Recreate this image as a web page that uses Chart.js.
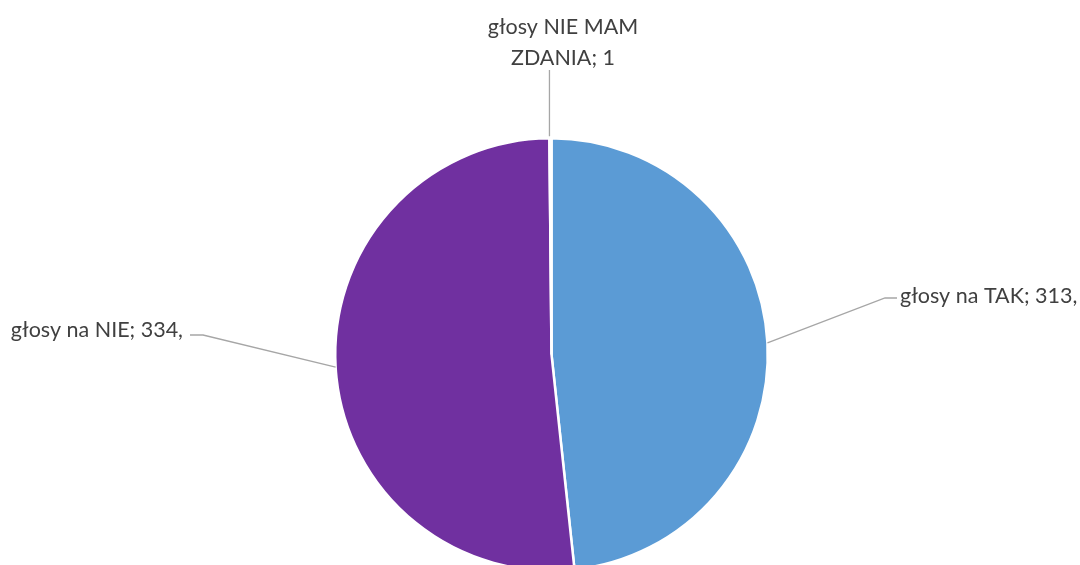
<!DOCTYPE html>
<html>
<head>
<meta charset="utf-8">
<script src="https://cdn.jsdelivr.net/npm/chart.js@4.4.0/dist/chart.umd.min.js"></script>
<style>
  html, body { margin: 0; padding: 0; background: #fff; overflow: hidden; }
  #wrap { position: relative; width: 1080px; height: 600px; }
</style>
</head>
<body>
<div id="wrap"><canvas id="chart"></canvas></div>
<script>
const labels = ['głosy na TAK', 'głosy na NIE', 'głosy NIE MAM ZDANIA'];
const votes = [313, 334, 1];
const colors = ['#5B9BD5', '#7030A0', '#A5A5A5'];
// label text lines
const labelLines = [['głosy na TAK; 313,'], ['głosy na NIE; 334,'], ['głosy NIE MAM', 'ZDANIA; 1']];

const leaderPlugin = {
  id: 'leaders',
  afterDatasetsDraw(chart) {
    const ctx = chart.ctx;
    const arcs = chart.getDatasetMeta(0).data;
    ctx.save();
    ctx.font = '21.5px Lato, sans-serif';
    ctx.fillStyle = '#404040';
    ctx.strokeStyle = '#A6A6A6';
    ctx.lineWidth = 1.3;
    arcs.forEach((arc, i) => {
      const mid = (arc.startAngle + arc.endAngle) / 2;
      const ax = arc.x + Math.cos(mid) * arc.outerRadius;
      const ay = arc.y + Math.sin(mid) * arc.outerRadius;
      const lines = labelLines[i];
      ctx.beginPath();
      if (i === 0) {
        ctx.moveTo(ax, ay);
        ctx.lineTo(885, 298);
        ctx.lineTo(897, 298);
        ctx.stroke();
        ctx.textAlign = 'left';
        ctx.textBaseline = 'middle';
        ctx.fillText(lines[0], 900, 296);
      } else if (i === 1) {
        ctx.moveTo(ax, ay);
        ctx.lineTo(203, 335);
        ctx.lineTo(190, 335);
        ctx.stroke();
        ctx.textAlign = 'right';
        ctx.textBaseline = 'middle';
        ctx.fillText(lines[0], 183, 330);
      } else {
        ctx.moveTo(ax - 1, ay - 2);
        ctx.lineTo(ax - 1, 70);
        ctx.stroke();
        ctx.textAlign = 'center';
        ctx.textBaseline = 'middle';
        ctx.fillText(lines[0], 563, 27);
        ctx.fillText(lines[1], 563, 58);
      }
    });
    ctx.restore();
  }
};

new Chart(document.getElementById('chart'), {
  type: 'pie',
  data: {
    labels: labels,
    datasets: [{
      data: votes,
      backgroundColor: colors,
      borderColor: '#ffffff',
      borderWidth: 2.5
    }]
  },
  options: {
    responsive: true,
    maintainAspectRatio: false,
    animation: false,
    layout: { padding: { top: 137, bottom: 28, left: 23, right: 0 } },
    plugins: {
      legend: { display: false },
      tooltip: { enabled: false }
    }
  },
  plugins: [leaderPlugin]
});
</script>
</body>
</html>
